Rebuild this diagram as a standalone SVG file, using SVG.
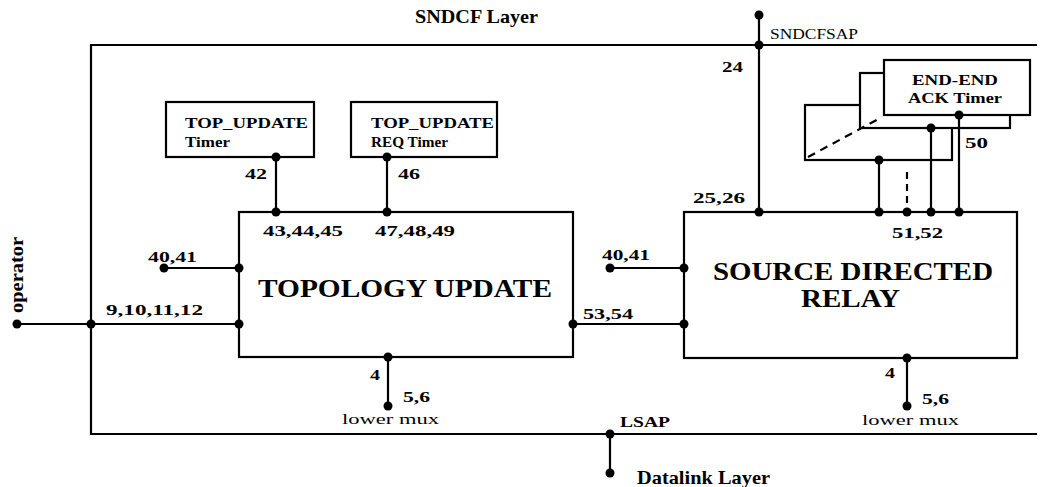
<svg xmlns="http://www.w3.org/2000/svg" width="1046" height="487" viewBox="0 0 1046 487">
<style>
.box{fill:#fff;stroke:#000;stroke-width:2.2}
.ln{fill:none;stroke:#000;stroke-width:2.2}
.dash{fill:none;stroke:#000;stroke-width:2.2;stroke-dasharray:8 6}
.dot{fill:#000}
</style>
<rect width="1046" height="487" fill="#fff"/>
<g id="frame">
<path class="ln" d="M1037,45 H91 V434 H1037"/>
<text font-family="Liberation Serif" font-size="19" font-weight="bold" x="415" y="23" textLength="123" lengthAdjust="spacingAndGlyphs">SNDCF Layer</text>
<text font-family="Liberation Serif" font-size="15" x="770" y="39" textLength="88" lengthAdjust="spacingAndGlyphs">SNDCFSAP</text>
<text font-family="Liberation Serif" font-size="19" font-weight="bold" transform="translate(23,313) rotate(-90)" textLength="76" lengthAdjust="spacingAndGlyphs">operator</text>
<text font-family="Liberation Serif" font-size="14" font-weight="bold" x="620" y="427" textLength="50" lengthAdjust="spacingAndGlyphs">LSAP</text>
<text font-family="Liberation Serif" font-size="19" font-weight="bold" x="637" y="484" textLength="133" lengthAdjust="spacingAndGlyphs">Datalink Layer</text>
</g>
<g id="timer1">
<rect class="box" x="166" y="102" width="148" height="55"/>
<text font-family="Liberation Serif" font-size="15" font-weight="bold" x="185" y="128" textLength="123" lengthAdjust="spacingAndGlyphs">TOP_UPDATE</text>
<text font-family="Liberation Serif" font-size="15" font-weight="bold" x="185" y="147" textLength="45" lengthAdjust="spacingAndGlyphs">Timer</text>
</g>
<g id="timer2">
<rect class="box" x="351" y="102" width="146" height="55"/>
<text font-family="Liberation Serif" font-size="15" font-weight="bold" x="371" y="128" textLength="123" lengthAdjust="spacingAndGlyphs">TOP_UPDATE</text>
<text font-family="Liberation Serif" font-size="15" font-weight="bold" x="371" y="147" textLength="77" lengthAdjust="spacingAndGlyphs">REQ Timer</text>
</g>
<g id="topology-update">
<rect class="box" x="239" y="212" width="334" height="145"/>
<text font-family="Liberation Serif" font-size="25" font-weight="bold" x="258" y="297" textLength="294" lengthAdjust="spacingAndGlyphs">TOPOLOGY UPDATE</text>
</g>
<g id="source-directed-relay">
<rect class="box" x="684" y="212" width="333" height="146"/>
<text font-family="Liberation Serif" font-size="25" font-weight="bold" x="713" y="280" textLength="280" lengthAdjust="spacingAndGlyphs">SOURCE DIRECTED</text>
<text font-family="Liberation Serif" font-size="25" font-weight="bold" x="801" y="307" textLength="99" lengthAdjust="spacingAndGlyphs">RELAY</text>
</g>
<g id="end-end-timers">
<rect class="box" x="805" y="105" width="147" height="55"/>
<rect class="box" x="860" y="73" width="150" height="55"/>
<rect class="box" x="884" y="60" width="146" height="55"/>
<text font-family="Liberation Serif" font-size="15" font-weight="bold" x="912" y="85" textLength="86" lengthAdjust="spacingAndGlyphs">END-END</text>
<text font-family="Liberation Serif" font-size="15" font-weight="bold" x="908" y="103" textLength="94" lengthAdjust="spacingAndGlyphs">ACK Timer</text>
<line class="dash" x1="808" y1="157" x2="882" y2="117"/>
</g>
<g id="connectors">
<line class="ln" x1="759" y1="15" x2="759" y2="212"/>
<line class="ln" x1="17" y1="324" x2="239" y2="324"/>
<line class="ln" x1="164" y1="268" x2="239" y2="268"/>
<line class="ln" x1="276" y1="157" x2="276" y2="212"/>
<line class="ln" x1="387" y1="157" x2="387" y2="212"/>
<line class="ln" x1="388" y1="357" x2="388" y2="406"/>
<line class="ln" x1="573" y1="324" x2="684" y2="324"/>
<line class="ln" x1="610" y1="268" x2="684" y2="268"/>
<line class="ln" x1="907" y1="358" x2="907" y2="406"/>
<line class="ln" x1="610" y1="434" x2="610" y2="473"/>
<line class="ln" x1="879" y1="160" x2="879" y2="212"/>
<line class="ln" x1="907" y1="172" x2="907" y2="212" style="stroke-dasharray:7 5"/>
<line class="ln" x1="931" y1="128" x2="931" y2="212"/>
<line class="ln" x1="959" y1="115" x2="959" y2="212"/>
<g class="dot">
<circle cx="759" cy="15" r="4.5"/><circle cx="759" cy="45" r="4.5"/><circle cx="759" cy="212" r="4.5"/>
<circle cx="17" cy="324" r="4.5"/><circle cx="91" cy="324" r="4.5"/><circle cx="239" cy="324" r="4.5"/>
<circle cx="164" cy="268" r="4.5"/><circle cx="239" cy="268" r="4.5"/>
<circle cx="276" cy="157" r="4.5"/><circle cx="276" cy="212" r="4.5"/>
<circle cx="387" cy="157" r="4.5"/><circle cx="387" cy="212" r="4.5"/>
<circle cx="388" cy="357" r="4.5"/><circle cx="388" cy="406" r="4.5"/>
<circle cx="573" cy="324" r="4.5"/><circle cx="684" cy="324" r="4.5"/>
<circle cx="610" cy="268" r="4.5"/><circle cx="684" cy="268" r="4.5"/>
<circle cx="907" cy="358" r="4.5"/><circle cx="907" cy="406" r="4.5"/>
<circle cx="610" cy="434" r="4.5"/><circle cx="610" cy="473" r="4.5"/>
<circle cx="879" cy="160" r="4.5"/><circle cx="879" cy="212" r="4.5"/>
<circle cx="907" cy="212" r="4.5"/>
<circle cx="931" cy="128" r="4.5"/><circle cx="931" cy="212" r="4.5"/>
<circle cx="959" cy="115" r="4.5"/><circle cx="959" cy="212" r="4.5"/>
</g>
<text font-family="Liberation Serif" font-size="15" font-weight="bold" x="722" y="72" textLength="21" lengthAdjust="spacingAndGlyphs">24</text>
<text font-family="Liberation Serif" font-size="15" font-weight="bold" x="693" y="203" textLength="52" lengthAdjust="spacingAndGlyphs">25,26</text>
<text font-family="Liberation Serif" font-size="15" font-weight="bold" x="245" y="179" textLength="22" lengthAdjust="spacingAndGlyphs">42</text>
<text font-family="Liberation Serif" font-size="15" font-weight="bold" x="398" y="179" textLength="22" lengthAdjust="spacingAndGlyphs">46</text>
<text font-family="Liberation Serif" font-size="15" font-weight="bold" x="263" y="236" textLength="80" lengthAdjust="spacingAndGlyphs">43,44,45</text>
<text font-family="Liberation Serif" font-size="15" font-weight="bold" x="375" y="236" textLength="80" lengthAdjust="spacingAndGlyphs">47,48,49</text>
<text font-family="Liberation Serif" font-size="15" font-weight="bold" x="148" y="262" textLength="49" lengthAdjust="spacingAndGlyphs">40,41</text>
<text font-family="Liberation Serif" font-size="15" font-weight="bold" x="106" y="315" textLength="97" lengthAdjust="spacingAndGlyphs">9,10,11,12</text>
<text font-family="Liberation Serif" font-size="15" font-weight="bold" x="583" y="319" textLength="50" lengthAdjust="spacingAndGlyphs">53,54</text>
<text font-family="Liberation Serif" font-size="15" font-weight="bold" x="602" y="260" textLength="48" lengthAdjust="spacingAndGlyphs">40,41</text>
<text font-family="Liberation Serif" font-size="15" font-weight="bold" x="965" y="148" textLength="23" lengthAdjust="spacingAndGlyphs">50</text>
<text font-family="Liberation Serif" font-size="15" font-weight="bold" x="892" y="238" textLength="51" lengthAdjust="spacingAndGlyphs">51,52</text>
<text font-family="Liberation Serif" font-size="15" font-weight="bold" x="370" y="380" textLength="10" lengthAdjust="spacingAndGlyphs">4</text>
<text font-family="Liberation Serif" font-size="15" font-weight="bold" x="403" y="402" textLength="27" lengthAdjust="spacingAndGlyphs">5,6</text>
<text font-family="Liberation Serif" font-size="15" x="342" y="424" textLength="97" lengthAdjust="spacingAndGlyphs">lower mux</text>
<text font-family="Liberation Serif" font-size="15" font-weight="bold" x="885" y="378" textLength="10" lengthAdjust="spacingAndGlyphs">4</text>
<text font-family="Liberation Serif" font-size="15" font-weight="bold" x="922" y="404" textLength="27" lengthAdjust="spacingAndGlyphs">5,6</text>
<text font-family="Liberation Serif" font-size="15" x="862" y="425" textLength="97" lengthAdjust="spacingAndGlyphs">lower mux</text>
</g>
</svg>
